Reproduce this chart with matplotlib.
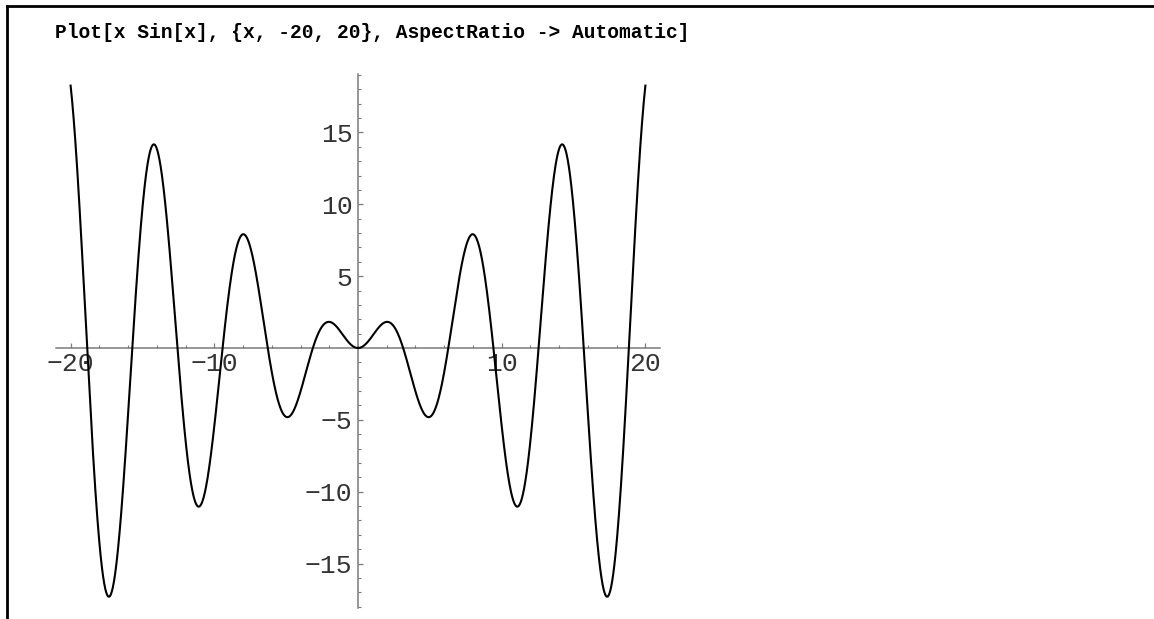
import numpy as np
import matplotlib
matplotlib.use("Agg")
import matplotlib.pyplot as plt
from matplotlib.lines import Line2D
from matplotlib.ticker import FixedLocator, MultipleLocator

# Function plotted: f(x) = x * sin(x) over the stated interval
x_start, x_end = -20, 20
x_vals = np.linspace(x_start, x_end, 2000)
y_vals = x_vals * np.sin(x_vals)

# Tick positions and labels
x_major = [-20, -10, 10, 20]
x_minor_step = 2
y_major = [-15, -10, -5, 5, 10, 15]
y_minor_step = 1

input_text = "Plot[x Sin[x], {x, -20, 20}, AspectRatio -> Automatic]"

W, H = 1154, 619
DPI = 100
fig = plt.figure(figsize=(W / DPI, H / DPI), dpi=DPI)
fig.patch.set_facecolor("white")

# Axes placed in pixel units with equal scale on both axes
scale = 14.37          # pixels per data unit
x0_px, y0_px = 358, 348
xlim = (-21.0, 21.0)
ylim = (-18.1, 19.07)
left = x0_px + xlim[0] * scale
right = x0_px + xlim[1] * scale
top = y0_px - ylim[1] * scale
bottom = y0_px - ylim[0] * scale
ax = fig.add_axes([left / W, 1 - bottom / H, (right - left) / W, (bottom - top) / H])
ax.set_xlim(*xlim)
ax.set_ylim(*ylim)
ax.patch.set_alpha(0)

ax.plot(x_vals, y_vals, color="black", lw=1.5, clip_on=False, zorder=3)

axis_color = "#7a7a7a"
for side in ("top", "right"):
    ax.spines[side].set_visible(False)
ax.spines["left"].set_position(("data", 0))
ax.spines["bottom"].set_position(("data", 0))
for side in ("left", "bottom"):
    ax.spines[side].set_color(axis_color)
    ax.spines[side].set_linewidth(1.1)

ax.xaxis.set_major_locator(FixedLocator(x_major))
ax.xaxis.set_minor_locator(MultipleLocator(x_minor_step))
ax.yaxis.set_major_locator(FixedLocator(y_major))
ax.yaxis.set_minor_locator(MultipleLocator(y_minor_step))

tick_font = dict(family="Liberation Mono", size=19, color="#333333")
ax.set_xticklabels([str(v).replace("-", "\u2212") for v in x_major], **tick_font)
ax.set_yticklabels([str(v).replace("-", "\u2212") for v in y_major], **tick_font)

ax.tick_params(axis="both", which="major", direction="in", length=3.4,
               width=0.9, color=axis_color)
ax.tick_params(axis="both", which="minor", direction="in", length=2.0,
               width=0.8, color=axis_color)
ax.tick_params(axis="x", which="major", pad=3)
ax.tick_params(axis="y", which="major", pad=4)

# Notebook cell text and cell bracket lines
fig.text(55 / W, 1 - 38 / H, input_text, family="Liberation Mono",
         weight="bold", size=14.1, color="black", va="baseline", ha="left")
fig.add_artist(Line2D([7 / W, 1.0], [1 - 6 / H, 1 - 6 / H],
                      transform=fig.transFigure, color="black", lw=2.0))
fig.add_artist(Line2D([7 / W, 7 / W], [1 - 6 / H, 0.0],
                      transform=fig.transFigure, color="black", lw=2.0))

fig.savefig("out.png", dpi=DPI)
